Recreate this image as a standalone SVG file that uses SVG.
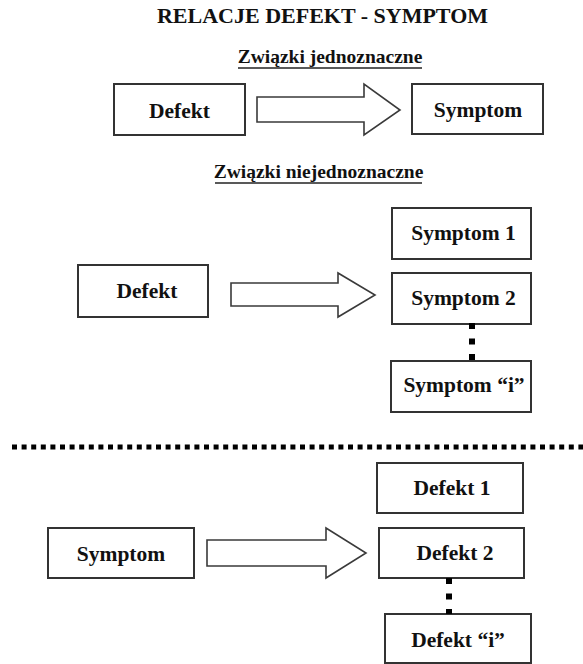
<svg xmlns="http://www.w3.org/2000/svg" width="583" height="664" viewBox="0 0 583 664">
  <style>
    .box { fill: #ffffff; stroke: #333333; stroke-width: 2; }
    .arrow { fill: #ffffff; stroke: #3a3a3a; stroke-width: 1.6; stroke-linejoin: miter; }
    .lbl { font-family: "Liberation Serif", "Times New Roman", serif; font-weight: bold; font-size: 21.5px; fill: #111111; text-anchor: middle; }
    .title { font-family: "Liberation Serif", "Times New Roman", serif; font-weight: bold; font-size: 22px; fill: #111111; text-anchor: middle; }
    .sub { font-family: "Liberation Serif", "Times New Roman", serif; font-weight: bold; font-size: 19.5px; fill: #111111; text-anchor: middle; }
    .uline { stroke: #222222; stroke-width: 1.5; }
    .dots { stroke: #000000; stroke-width: 6; fill: none; stroke-dasharray: 6 9.5; }
    .sep { stroke: #000000; stroke-width: 5; fill: none; stroke-dasharray: 5 4.6; }
  </style>

  <rect width="583" height="664" fill="#ffffff"/>

  <!-- headings -->
  <g id="headings">
    <text class="title" x="322.5" y="23">RELACJE DEFEKT - SYMPTOM</text>
    <text class="sub" x="330" y="63">Związki jednoznaczne</text>
    <line class="uline" x1="238" y1="68" x2="422" y2="68"/>
    <text class="sub" x="318.5" y="178">Związki niejednoznaczne</text>
    <line class="uline" x1="215" y1="183" x2="422" y2="183"/>
  </g>

  <!-- section 1: one-to-one -->
  <g id="n-defekt-a">
    <rect class="box" x="114" y="84" width="131" height="51"/>
    <text class="lbl" x="179.5" y="118">Defekt</text>
  </g>
  <g id="n-symptom-a">
    <rect class="box" x="412" y="84" width="131" height="50"/>
    <text class="lbl" x="478" y="117">Symptom</text>
  </g>

  <!-- section 2: one defect, many symptoms -->
  <g id="n-defekt-b">
    <rect class="box" x="78" y="265" width="130" height="52"/>
    <text class="lbl" x="147" y="298">Defekt</text>
  </g>
  <g id="n-symptom-1">
    <rect class="box" x="392" y="208" width="139" height="51"/>
    <text class="lbl" x="463.5" y="240">Symptom 1</text>
  </g>
  <g id="n-symptom-2">
    <rect class="box" x="392" y="273" width="139" height="51"/>
    <text class="lbl" x="463.5" y="305">Symptom 2</text>
  </g>
  <g id="n-symptom-i">
    <rect class="box" x="391" y="361" width="140" height="51"/>
    <text class="lbl" x="464" y="392">Symptom “i”</text>
  </g>

  <!-- section 3: one symptom, many defects -->
  <g id="n-symptom-c">
    <rect class="box" x="48" y="528" width="146" height="50"/>
    <text class="lbl" x="121" y="561">Symptom</text>
  </g>
  <g id="n-defekt-1">
    <rect class="box" x="377" y="463" width="146" height="50"/>
    <text class="lbl" x="452" y="495">Defekt 1</text>
  </g>
  <g id="n-defekt-2">
    <rect class="box" x="379" y="528" width="145" height="50"/>
    <text class="lbl" x="455" y="560">Defekt 2</text>
  </g>
  <g id="n-defekt-i">
    <rect class="box" x="385" y="614" width="146" height="49"/>
    <text class="lbl" x="458" y="647">Defekt “i”</text>
  </g>

  <!-- connectors: block arrows, dotted links, section separator -->
  <g id="connectors">
    <polygon class="arrow" points="257,97 364,97 364,84 400,110 364,135 364,122 257,122"/>
    <polygon class="arrow" points="231,283 338,283 338,273 375,295 338,317 338,306 231,306"/>
    <polygon class="arrow" points="207,540 326,540 326,528 366,553 326,578 326,566 207,566"/>
    <line class="dots" x1="472" y1="323" x2="472" y2="361"/>
    <line class="dots" x1="449" y1="578" x2="449" y2="614"/>
    <line class="sep" x1="12" y1="447" x2="583" y2="447"/>
  </g>
</svg>
